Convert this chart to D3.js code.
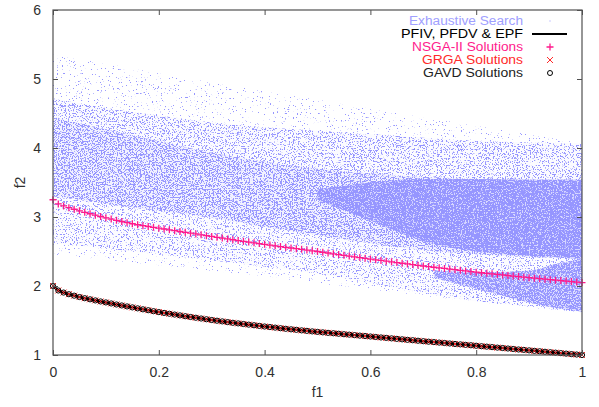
<!DOCTYPE html>
<html><head><meta charset="utf-8">
<script src="https://cdn.jsdelivr.net/npm/d3@7/dist/d3.min.js"></script>
<style>
html,body{margin:0;padding:0;background:#fff;}
text{font-family:"Liberation Sans",Arial,sans-serif;}
</style></head>
<body><svg id="chart" width="599" height="407"></svg>
<script>
// ---------- data ----------
const xTicks = [0, 0.2, 0.4, 0.6, 0.8, 1];
const xTickLabels = ["0", "0.2", "0.4", "0.6", "0.8", "1"];
const yTicks = [1, 2, 3, 4, 5, 6];
const yTickLabels = ["1", "2", "3", "4", "5", "6"];
const legendLabels = ["Exhaustive Search", "PFIV, PFDV & EPF", "NSGA-II Solutions", "GRGA Solutions", "GAVD Solutions"];

// Exhaustive search cloud, described as density bands (f2 edges at bandF1)
const bandF1 = [0, 0.1, 0.2, 0.3, 0.4, 0.5, 0.6, 0.7, 0.8, 0.9, 1.0];
const sparseTop    = [5.35, 5.22, 5.08, 4.95, 4.82, 4.70, 4.57, 4.45, 4.32, 4.20, 4.07];
const sparseBottom = [2.45, 2.38, 2.30, 2.22, 2.13, 2.04, 1.95, 1.86, 1.77, 1.69, 1.62];
const upperTop     = [4.72, 4.58, 4.47, 4.37, 4.30, 4.25, 4.20, 4.15, 4.10, 4.08, 4.07];
const mainTop      = [4.45, 4.27, 4.10, 3.93, 3.80, 3.70, 3.63, 3.58, 3.55, 3.54, 3.54];
const mainBottom   = [3.30, 3.19, 3.09, 2.99, 2.86, 2.74, 2.62, 2.52, 2.46, 2.42, 2.40];
const lowerBottom  = [2.62, 2.54, 2.46, 2.37, 2.28, 2.18, 2.04, 1.90, 1.78, 1.70, 1.62];
const coreF1     = [0.5, 0.6, 0.7, 0.8, 0.9, 1.0];
const coreTop    = [3.40, 3.50, 3.55, 3.55, 3.54, 3.54];
const coreBottom = [3.25, 2.95, 2.65, 2.50, 2.44, 2.40];
const tailF1     = [0.72, 0.82, 0.9, 0.95, 1.0];
const tailTop    = [2.22, 2.20, 2.22, 2.32, 2.40];
const tailBottom = [2.12, 1.92, 1.76, 1.68, 1.63];

// solution sets
const f1Points = [0,0.01,0.02,0.03,0.04,0.05,0.06,0.07,0.08,0.09,0.1,0.11,0.12,0.13,0.14,0.15,0.16,0.17,0.18,0.19,0.2,0.21,0.22,0.23,0.24,0.25,0.26,0.27,0.28,0.29,0.3,0.31,0.32,0.33,0.34,0.35,0.36,0.37,0.38,0.39,0.4,0.41,0.42,0.43,0.44,0.45,0.46,0.47,0.48,0.49,0.5,0.51,0.52,0.53,0.54,0.55,0.56,0.57,0.58,0.59,0.6,0.61,0.62,0.63,0.64,0.65,0.66,0.67,0.68,0.69,0.7,0.71,0.72,0.73,0.74,0.75,0.76,0.77,0.78,0.79,0.8,0.81,0.82,0.83,0.84,0.85,0.86,0.87,0.88,0.89,0.9,0.91,0.92,0.93,0.94,0.95,0.96,0.97,0.98,0.99,1];
const frontF2 = [2.000,1.935,1.905,1.881,1.860,1.840,1.823,1.807,1.791,1.776,1.762,1.747,1.732,1.718,1.704,1.690,1.676,1.662,1.649,1.635,1.622,1.610,1.598,1.586,1.574,1.562,1.551,1.540,1.529,1.518,1.507,1.497,1.487,1.477,1.467,1.458,1.449,1.440,1.431,1.422,1.413,1.405,1.397,1.388,1.380,1.372,1.365,1.357,1.350,1.342,1.335,1.328,1.321,1.315,1.308,1.301,1.295,1.288,1.281,1.275,1.268,1.261,1.254,1.248,1.241,1.234,1.227,1.220,1.214,1.207,1.200,1.193,1.187,1.180,1.174,1.167,1.160,1.154,1.147,1.141,1.134,1.127,1.121,1.114,1.107,1.101,1.094,1.087,1.080,1.074,1.067,1.060,1.054,1.047,1.040,1.034,1.027,1.020,1.013,1.007,1.000];
const nsgaF2 = [3.250,3.190,3.160,3.135,3.112,3.090,3.068,3.047,3.027,3.007,2.988,2.970,2.952,2.935,2.918,2.902,2.888,2.875,2.862,2.850,2.838,2.826,2.814,2.802,2.790,2.778,2.766,2.754,2.742,2.730,2.718,2.706,2.694,2.682,2.670,2.659,2.648,2.637,2.626,2.615,2.604,2.593,2.582,2.571,2.561,2.551,2.541,2.531,2.520,2.510,2.500,2.489,2.478,2.467,2.456,2.445,2.434,2.423,2.412,2.401,2.390,2.380,2.370,2.360,2.350,2.340,2.330,2.320,2.310,2.300,2.290,2.281,2.272,2.263,2.254,2.245,2.236,2.227,2.218,2.209,2.200,2.192,2.184,2.176,2.168,2.160,2.152,2.144,2.136,2.128,2.120,2.113,2.106,2.099,2.092,2.085,2.078,2.071,2.064,2.057,2.050];
const grgaF2 = frontF2;
const gavdF2 = frontF2;

// ---------- drawing ----------
const svg = d3.select("#chart");
const L = 53, R = 582, T = 10, B = 355;
const x = d3.scaleLinear().domain([0, 1]).range([L, R]);
const y = d3.scaleLinear().domain([1, 6]).range([B, T]);

const blue = "#9696ff";
const pink = "#ff1a8c";
const red = "#ff2a2a";
const axisCol = "#505050";
const textCol = "#303030";

const defs = svg.append("defs");
defs.append("clipPath").attr("id", "clip")
  .append("rect").attr("x", L).attr("y", T).attr("width", R - L).attr("height", B - T);

// speckle filters: noise texture that keeps a given share of the band's pixels
let fid = 0;
function speckle(density, seed) {
  const id = "sp" + (fid++);
  const sigma = 0.11;
  const p = Math.min(0.98, Math.max(0.02, density));
  const cdf = v => 0.5 * (1 + Math.tanh(0.7978845608 * (v + 0.044715 * v * v * v)));
  let lo = -4, hi = 4;
  for (let k = 0; k < 40; k++) { const m = (lo + hi) / 2; if (cdf(m) < 1 - p) lo = m; else hi = m; }
  const thr = 0.5 + ((lo + hi) / 2) * sigma;
  const slope = 18;
  const f = defs.append("filter").attr("id", id).attr("filterUnits", "userSpaceOnUse")
    .attr("x", L).attr("y", T).attr("width", R - L).attr("height", B - T)
    .attr("color-interpolation-filters", "sRGB");
  f.append("feTurbulence").attr("type", "fractalNoise").attr("baseFrequency", 0.75)
    .attr("numOctaves", 2).attr("seed", seed).attr("result", "n");
  f.append("feColorMatrix").attr("in", "n").attr("type", "matrix")
    .attr("values", "0 0 0 0 0  0 0 0 0 0  0 0 0 0 0  1 0 0 0 0").attr("result", "a");
  const ct = f.append("feComponentTransfer").attr("in", "a").attr("result", "m");
  ct.append("feFuncA").attr("type", "linear").attr("slope", slope).attr("intercept", -slope * thr);
  f.append("feComposite").attr("in", "SourceGraphic").attr("in2", "m").attr("operator", "in");
  return id;
}

const plot = svg.append("g").attr("clip-path", "url(#clip)");

function band(xs, tops, bottoms, density, seed, baseOp) {
  const pts = xs.map((v, i) => ({ f1: v, t: tops[i], b: bottoms[i] }));
  const area = d3.area().x(d => x(d.f1)).y0(d => y(d.b)).y1(d => y(d.t)).curve(d3.curveMonotoneX);
  if (baseOp) {
    plot.append("path").datum(pts).attr("d", area).attr("fill", blue).attr("fill-opacity", baseOp);
  }
  plot.append("path").datum(pts).attr("d", area).attr("fill", blue)
    .attr("filter", `url(#${speckle(density, seed)})`);
}
band(bandF1, sparseTop, sparseBottom, 0.045, 3, 0);
band(bandF1, upperTop, mainTop, 0.26, 7, 0.04);
band(bandF1, mainTop, mainBottom, 0.5, 11, 0.12);
band(bandF1, mainBottom, lowerBottom, 0.18, 17, 0.03);
band(coreF1, coreTop, coreBottom, 0.7, 23, 0.3);
band(tailF1, tailTop, tailBottom, 0.65, 29, 0.3);

// front line
const pts = f1Points.map((v, i) => ({ f1: v, f2: frontF2[i] }));
plot.append("path").datum(pts)
  .attr("d", d3.line().x(d => x(d.f1)).y(d => y(d.f2)))
  .attr("fill", "none").attr("stroke", "#000").attr("stroke-width", 2.5);

// NSGA-II +
const gN = svg.append("g");
f1Points.forEach((v, i) => {
  const cx = x(v), cy = y(nsgaF2[i]);
  gN.append("path").attr("d", `M${cx-3.5},${cy}H${cx+3.5}M${cx},${cy-3.5}V${cy+3.5}`)
    .attr("stroke", pink).attr("stroke-width", 1.3).attr("fill", "none");
});
// GRGA x
const gG = svg.append("g");
f1Points.forEach((v, i) => {
  const cx = x(v), cy = y(grgaF2[i]);
  gG.append("path").attr("d", `M${cx-3},${cy-3}L${cx+3},${cy+3}M${cx-3},${cy+3}L${cx+3},${cy-3}`)
    .attr("stroke", red).attr("stroke-width", 1).attr("fill", "none");
});
// GAVD circles
const gV = svg.append("g");
f1Points.forEach((v, i) => {
  gV.append("circle").attr("cx", x(v)).attr("cy", y(gavdF2[i])).attr("r", 2.6)
    .attr("fill", "none").attr("stroke", "#000").attr("stroke-width", 1);
});

// border
svg.append("rect").attr("x", L).attr("y", T).attr("width", R - L).attr("height", B - T)
  .attr("fill", "none").attr("stroke", axisCol).attr("stroke-width", 1.2);

// axes (ticks inward, mirrored)
const xAxisB = d3.axisBottom(x).tickValues(xTicks).tickFormat((d, i) => xTickLabels[i]).tickSizeInner(-5).tickSizeOuter(0).tickPadding(12);
const gxb = svg.append("g").attr("transform", `translate(0,${B})`).call(xAxisB);
const xAxisT = d3.axisTop(x).tickValues(xTicks).tickFormat("").tickSizeInner(-5).tickSizeOuter(0);
const gxt = svg.append("g").attr("transform", `translate(0,${T})`).call(xAxisT);
const yAxisL = d3.axisLeft(y).tickValues(yTicks).tickFormat((d, i) => yTickLabels[i]).tickSizeInner(-5).tickSizeOuter(0).tickPadding(12);
const gyl = svg.append("g").attr("transform", `translate(${L},0)`).call(yAxisL);
const yAxisR = d3.axisRight(y).tickValues(yTicks).tickFormat("").tickSizeInner(-5).tickSizeOuter(0);
const gyr = svg.append("g").attr("transform", `translate(${R},0)`).call(yAxisR);
[gxb, gxt, gyl, gyr].forEach(g => {
  g.select(".domain").remove();
  g.selectAll(".tick line").attr("stroke", axisCol);
  g.selectAll("text").attr("fill", textCol).style("font-size", "14px").style("font-family", '"Liberation Sans", Arial, sans-serif');
});

// axis titles
svg.append("text").attr("x", (L + R) / 2).attr("y", 397).attr("text-anchor", "middle")
  .attr("fill", textCol).style("font-size", "14px").text("f1");
svg.append("text").attr("transform", `translate(25,${(T + B) / 2}) rotate(-90)`).attr("text-anchor", "middle")
  .attr("fill", textCol).style("font-size", "14px").text("f2");

// legend
const legCols = ["#a0a0ff", "#000", pink, red, "#222"];
const legY = [21, 34, 47, 60, 73];
const legW = [114, 122, 111, 101, 100];
const lg = svg.append("g");
legendLabels.forEach((t, i) => {
  lg.append("text").attr("x", 523).attr("y", legY[i]).attr("dy", "0.35em").attr("text-anchor", "end")
    .attr("textLength", legW[i]).attr("lengthAdjust", "spacingAndGlyphs")
    .attr("fill", legCols[i]).style("font-size", "12px").text(t);
});
const sx = 550;
lg.append("rect").attr("x", sx - 0.5).attr("y", legY[0] - 0.5).attr("width", 1).attr("height", 1).attr("fill", blue);
lg.append("line").attr("x1", 532).attr("x2", 567).attr("y1", legY[1]).attr("y2", legY[1]).attr("stroke", "#000").attr("stroke-width", 2);
lg.append("path").attr("d", `M${sx-3.5},${legY[2]}H${sx+3.5}M${sx},${legY[2]-3.5}V${legY[2]+3.5}`).attr("stroke", pink).attr("stroke-width", 1.3);
lg.append("path").attr("d", `M${sx-3},${legY[3]-3}L${sx+3},${legY[3]+3}M${sx-3},${legY[3]+3}L${sx+3},${legY[3]-3}`).attr("stroke", red).attr("stroke-width", 1);
lg.append("circle").attr("cx", sx).attr("cy", legY[4]).attr("r", 2.5).attr("fill", "none").attr("stroke", "#000");
</script></body></html>
